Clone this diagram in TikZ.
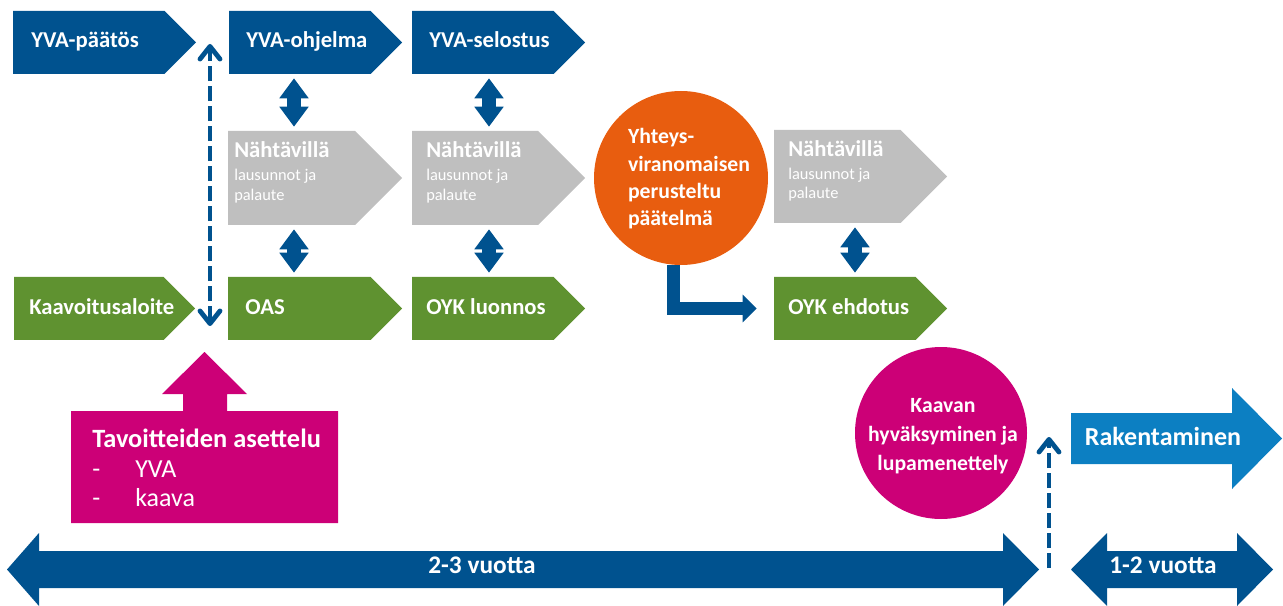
\documentclass[tikz,border=0pt]{standalone}
\usepackage{fontspec}
\setmainfont{Carlito}
\usetikzlibrary{arrows.meta,fit}
\definecolor{blueD}{HTML}{00528F}
\definecolor{blueL}{HTML}{0C7FC2}
\definecolor{greenC}{HTML}{5F9230}
\definecolor{grayC}{HTML}{BFBFBF}
\definecolor{orangeC}{HTML}{E85D0F}
\definecolor{magC}{HTML}{CC0077}
\newcommand\ChevBox[6]{%
  \fill[#6] (#2,#3) -- ({#4-(#5-#3)/2},#3) -- (#4,{(#3+#5)/2}) -- ({#4-(#5-#3)/2},#5) -- (#2,#5) -- cycle;
  \node[fit={(#2,#3) (#4,#5)}, inner sep=0pt] (#1) {};}
\begin{document}
\begin{tikzpicture}[x=0.75pt,y=-0.75pt,
  lbl/.style={text=white, font=\bfseries\fontsize{17}{20}\selectfont, inner sep=0pt, anchor=base west},
  small/.style={text=white, font=\fontsize{12.3}{15}\selectfont, inner sep=0pt, anchor=base west},
  big/.style={text=white, font=\bfseries\fontsize{19}{22}\selectfont, inner sep=0pt},
  reg/.style={text=white, font=\fontsize{19.5}{22}\selectfont, inner sep=0pt, anchor=base west},
  fatdbl/.style={draw=blueD, line width=10.5pt, {Triangle[width=21pt,length=15pt]}-{Triangle[width=21pt,length=15pt]}, shorten <=3pt, shorten >=3pt},
  dashar/.style={draw=blueD, line width=3.6pt, dash pattern=on 11.25pt off 3.75pt},
  barb/.tip={Straight Barb[width=15pt,length=9.5pt,round]}
  ]
\useasboundingbox (0,0) rectangle (1283,606);
% top row
\ChevBox{yvap}{13}{11}{196}{74}{blueD}
\ChevBox{yvao}{229}{11}{402}{74}{blueD}
\ChevBox{yvas}{412}{11}{585}{74}{blueD}
% gray row
\ChevBox{nah1}{228}{131}{402}{225}{grayC}
\ChevBox{nah2}{412}{131}{585}{225}{grayC}
\ChevBox{nah3}{774}{130}{947}{223}{grayC}
% green row
\ChevBox{kaav}{14}{277}{195}{340}{greenC}
\ChevBox{oas}{228}{277}{402}{340}{greenC}
\ChevBox{oykl}{412}{277}{585}{340}{greenC}
\ChevBox{oyke}{774}{277}{947}{340}{greenC}

\node[lbl] (yvapT) at (31,48) {YVA-päätös};
\node[lbl] (yvaoT) at (246,48) {YVA-ohjelma};
\node[lbl] (yvasT) at (429,48) {YVA-selostus};
\node[lbl] (kaavT) at (29,315) {Kaavoitusaloite};
\node[lbl] (oasT) at (245,315) {OAS};
\node[lbl] (oyklT) at (426,315) {OYK luonnos};
\node[lbl] (oykeT) at (788,315) {OYK ehdotus};

\node[lbl] (n1a) at (234,158) {Nähtävillä};
\node[small] (n1b) at (234,181) {lausunnot ja};
\node[small] (n1c) at (234,201) {palaute};
\node[lbl] (n2a) at (426,158) {Nähtävillä};
\node[small] (n2b) at (426,181) {lausunnot ja};
\node[small] (n2c) at (426,201) {palaute};
\node[lbl] (n3a) at (788,157) {Nähtävillä};
\node[small] (n3b) at (788,180) {lausunnot ja};
\node[small] (n3c) at (788,199) {palaute};

% vertical double arrows
\coordinate (cA) at (294,0);
\coordinate (cB) at (489,0);
\coordinate (cC) at (855,0);
\draw[fatdbl] (yvao.south -| cA) -- (nah1.north -| cA);
\draw[fatdbl] (yvas.south -| cB) -- (nah2.north -| cB);
\draw[fatdbl] (nah1.south -| cA) -- (oas.north -| cA);
\draw[fatdbl] (nah2.south -| cB) -- (oykl.north -| cB);
\draw[fatdbl] (nah3.south -| cC) -- (oyke.north -| cC);

% dashed arrow left
\coordinate (d1t) at (210,44);
\coordinate (d1b) at (210,326);
\draw[dashar, barb-barb] (d1b) -- (d1t);

% orange circle
\node[circle, fill=orangeC, minimum size=130.5pt, inner sep=0pt] (ven) at (681,178) {};
\node[text=white, font=\bfseries\fontsize{16.3}{20.5}\selectfont, align=left, inner sep=0pt] (venT) at (689,179) {Yhteys-\\viranomaisen\\perusteltu\\päätelmä};
\draw[draw=blueD, line width=9.75pt, line join=miter, -{Triangle[width=20pt,length=10.5pt]}, shorten >=12.75pt] ([xshift=-5.6pt]ven.south) |- (oyke.west);

% tavoitteiden
\fill[magC] (71,411) -- (183,411) -- (183,394) -- (162,394) -- (204.5,352) -- (247,394) -- (227,394) -- (227,411) -- (338,411) -- (338,523) -- (71,523) -- cycle;
\node[fit={(71,411) (338,523)}, inner sep=0pt] (tav) {};
\node[big, font=\bfseries\fontsize{19.8}{22}\selectfont, anchor=base west] (tavT) at (92,447) {Tavoitteiden asettelu};
\node[reg] (tavD1) at (92,477) {-};
\node[reg] (tavY) at (135,477) {YVA};
\node[reg] (tavD2) at (92,506) {-};
\node[reg] (tavK) at (135,506) {kaava};

% magenta circle
\node[circle, fill=magC, minimum size=129pt, inner sep=0pt] (hyv) at (941,433) {};
\node[text=white, font=\bfseries\fontsize{16.3}{21.75}\selectfont, align=center, inner sep=0pt] (hyvT) at (943,436) {Kaavan\\hyväksyminen ja\\lupamenettely};

% rakentaminen
\fill[blueL] (1071,413) -- (1232,413) -- (1232,388) -- (1282,438.5) -- (1232,489) -- (1232,464) -- (1071,464) -- cycle;
\node[big, font=\bfseries\fontsize{19.5}{22}\selectfont, anchor=base] (rak) at (1163,445) {Rakentaminen};

% timeline arrows
\fill[blueD] (7,569.5) -- (39,533) -- (39,551) -- (1003,551) -- (1003,533) -- (1039,569.5) -- (1003,606) -- (1003,588) -- (39,588) -- (39,606) -- cycle;
\node[big, anchor=base] (t23) at (482,573) {2-3 vuotta};
\fill[blueD] (1071,569.5) -- (1107,533) -- (1107,551) -- (1237,551) -- (1237,533) -- (1273,569.5) -- (1237,606) -- (1237,588) -- (1107,588) -- (1107,606) -- cycle;
\node[big, anchor=base] (t12) at (1163,573) {1-2 vuotta};

% dashed arrow right
\coordinate (d2b) at (1049,568);
\coordinate (d2t) at (1049,437);
\draw[dashar, -barb] (d2b) -- (d2t);
\end{tikzpicture}
\end{document}
